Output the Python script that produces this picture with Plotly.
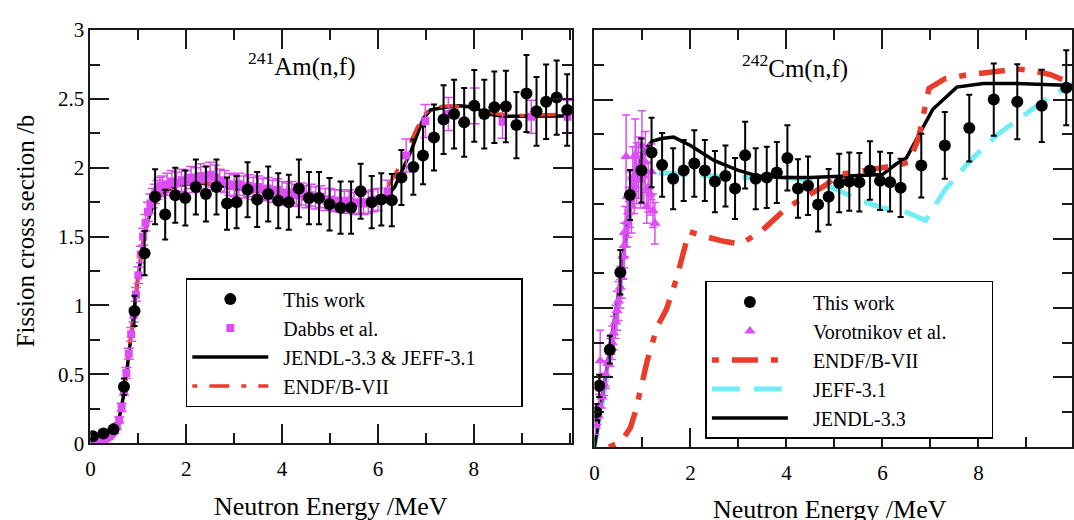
import plotly.graph_objects as go

FONT = "Liberation Serif, Times New Roman, serif"
RED = "#ea3b2b"
MAGENTA = "#dd4cf5"
CYAN = "#70eef5"
NB = "\u00a0"  # non-breaking space used to pad legend entries

# ---------------- 241Am(n,f) ----------------
am_this_e = [0.05, 0.27, 0.48, 0.70, 0.92, 1.13, 1.35, 1.56, 1.77, 1.98, 2.20, 2.41, 2.63, 2.85,
             3.05, 3.28, 3.48, 3.71, 3.92, 4.14, 4.35, 4.56, 4.77, 4.99, 5.22, 5.44, 5.64, 5.87,
             6.07, 6.29, 6.49, 6.74, 6.94, 7.17, 7.37, 7.59, 7.80, 8.01, 8.22, 8.43, 8.67, 8.89,
             9.10, 9.31, 9.51, 9.73, 9.95]
am_this_xs = [0.05, 0.07, 0.10, 0.41, 0.96, 1.38, 1.79, 1.66, 1.80, 1.78, 1.86, 1.81, 1.86, 1.74,
              1.75, 1.84, 1.77, 1.81, 1.76, 1.75, 1.85, 1.78, 1.78, 1.735, 1.71, 1.71, 1.83, 1.75,
              1.77, 1.765, 1.93, 2.005, 2.09, 2.22, 2.35, 2.39, 2.33, 2.45, 2.39, 2.44, 2.445, 2.31,
              2.54, 2.41, 2.48, 2.51, 2.42]
am_this_err = [0.02, 0.02, 0.025, 0.06, 0.11, 0.16, 0.20, 0.18, 0.20, 0.20, 0.20, 0.20, 0.20, 0.19,
               0.19, 0.20, 0.20, 0.20, 0.20, 0.20, 0.21, 0.19, 0.19, 0.19, 0.19, 0.19, 0.20, 0.19,
               0.19, 0.19, 0.20, 0.20, 0.21, 0.24, 0.25, 0.25, 0.25, 0.26, 0.25, 0.26, 0.26, 0.24,
               0.28, 0.25, 0.27, 0.27, 0.26]

am_dabbs_e = [0.05, 0.10, 0.15, 0.20, 0.25, 0.30, 0.35, 0.40, 0.45, 0.50, 0.55, 0.60, 0.65, 0.70,
              0.75, 0.80, 0.85, 0.90, 0.95, 1.00, 1.05, 1.10, 1.15, 1.20, 1.25, 1.30, 1.35, 1.40,
              1.45, 1.50, 1.6, 1.7, 1.8, 1.9, 2.0, 2.1, 2.2, 2.3, 2.4, 2.5, 2.6, 2.7, 2.8, 2.9,
              3.0, 3.1, 3.2, 3.3, 3.4, 3.5, 3.6, 3.7, 3.8, 3.9, 4.0, 4.1, 4.2, 4.3, 4.4, 4.5,
              4.6, 4.7, 4.8, 4.9, 5.0, 5.1, 5.2, 5.3, 5.4, 5.5, 5.6, 5.7, 5.8, 5.9, 6.0,
              6.20, 6.59, 6.99, 7.47, 8.02, 8.60, 9.20, 9.96]
am_dabbs_xs = [0.01, 0.01, 0.02, 0.02, 0.03, 0.03, 0.04, 0.05, 0.07, 0.09, 0.12, 0.17, 0.26, 0.38,
               0.51, 0.65, 0.79, 0.93, 1.08, 1.22, 1.37, 1.50, 1.60, 1.68, 1.74, 1.78, 1.81, 1.84,
               1.86, 1.87, 1.88, 1.90, 1.89, 1.91, 1.90, 1.93, 1.91, 1.94, 1.92, 1.95, 1.93, 1.91,
               1.90, 1.88, 1.87, 1.88, 1.86, 1.87, 1.85, 1.86, 1.84, 1.85, 1.83, 1.84, 1.82, 1.81,
               1.82, 1.80, 1.81, 1.79, 1.80, 1.78, 1.79, 1.77, 1.77, 1.76, 1.76, 1.75, 1.76, 1.74,
               1.75, 1.74, 1.75, 1.76, 1.77,
               1.83, 2.09, 2.34, 2.39, 2.45, 2.335, 2.37, 2.37]
am_dabbs_err = [0.01, 0.01, 0.01, 0.01, 0.01, 0.01, 0.01, 0.01, 0.01, 0.02, 0.02, 0.02, 0.03, 0.03,
                0.04, 0.04, 0.05, 0.05, 0.05, 0.06, 0.06, 0.06, 0.06, 0.07, 0.07, 0.07, 0.07, 0.07,
                0.07, 0.07, 0.08, 0.08, 0.08, 0.08, 0.08, 0.08, 0.09, 0.09, 0.09, 0.09, 0.09, 0.08,
                0.08, 0.08, 0.08, 0.08, 0.08, 0.08, 0.08, 0.08, 0.08, 0.08, 0.08, 0.08, 0.08, 0.08,
                0.08, 0.08, 0.08, 0.08, 0.08, 0.08, 0.08, 0.08, 0.08, 0.08, 0.08, 0.08, 0.08, 0.08,
                0.08, 0.08, 0.08, 0.08, 0.08,
                0.08, 0.12, 0.12, 0.12, 0.13, 0.12, 0.12, 0.12]

am_jendl_e = [0.0, 0.2, 0.4, 0.5, 0.6, 0.7, 0.8, 0.9, 1.0, 1.1, 1.2, 1.3, 1.5, 1.8, 2.2, 2.6, 3.0,
              3.5, 4.0, 4.5, 5.0, 5.5, 6.0, 6.2, 6.35, 6.5, 6.7, 6.95, 7.1, 7.4, 7.7, 8.0, 8.3,
              8.6, 9.0, 10.0]
am_jendl_xs = [0.02, 0.03, 0.06, 0.10, 0.18, 0.36, 0.64, 0.95, 1.22, 1.45, 1.62, 1.72, 1.82, 1.87,
               1.89, 1.88, 1.85, 1.83, 1.81, 1.79, 1.77, 1.75, 1.76, 1.80, 1.86, 1.97, 2.13, 2.36,
               2.42, 2.44, 2.45, 2.44, 2.39, 2.375, 2.377, 2.377]

am_endf_e = [0.0, 0.2, 0.4, 0.5, 0.6, 0.7, 0.8, 0.9, 1.0, 1.1, 1.2, 1.3, 1.5, 1.8, 2.2, 2.6, 3.0,
             3.5, 4.0, 4.5, 5.0, 5.5, 5.8, 6.0, 6.2, 6.4, 6.6, 6.8, 7.0, 7.2, 7.5, 8.0, 8.5,
             9.0, 10.0]
am_endf_xs = [0.02, 0.03, 0.06, 0.10, 0.19, 0.38, 0.66, 0.97, 1.24, 1.46, 1.63, 1.73, 1.83, 1.88,
              1.90, 1.88, 1.85, 1.83, 1.81, 1.79, 1.77, 1.76, 1.76, 1.78, 1.86, 1.98, 2.12, 2.28,
              2.40, 2.44, 2.45, 2.43, 2.39, 2.38, 2.39]

# ---------------- 242Cm(n,f) ----------------
cm_this_e = [0.04, 0.10, 0.32, 0.54, 0.74, 0.98, 1.19, 1.41, 1.64, 1.86, 2.08, 2.30, 2.51, 2.73,
             2.93, 3.14, 3.36, 3.59, 3.80, 4.02, 4.24, 4.45, 4.66, 4.88, 5.10, 5.31, 5.52, 5.74,
             5.95, 6.16, 6.38, 6.81, 7.30, 7.81, 8.32, 8.81, 9.32, 9.83]
cm_this_xs = [0.25, 0.44, 0.70, 1.258, 1.814, 1.99, 2.12, 2.03, 1.93, 1.99, 2.04, 1.99, 1.91, 1.95,
              1.86, 2.10, 1.93, 1.94, 1.975, 2.08, 1.86, 1.88, 1.745, 1.80, 1.90, 1.91, 1.905, 1.99,
              1.915, 1.905, 1.865, 2.025, 2.17, 2.295, 2.50, 2.485, 2.455, 2.585]
cm_this_err = [0.06, 0.08, 0.10, 0.16, 0.18, 0.23, 0.25, 0.23, 0.22, 0.22, 0.24, 0.22, 0.22, 0.22,
               0.22, 0.24, 0.22, 0.22, 0.22, 0.235, 0.21, 0.21, 0.195, 0.20, 0.21, 0.21, 0.21, 0.21,
               0.21, 0.21, 0.21, 0.23, 0.24, 0.24, 0.26, 0.27, 0.26, 0.27]

cm_voro_e = [0.02, 0.06, 0.10, 0.12, 0.16, 0.20, 0.24, 0.28, 0.33, 0.37, 0.40, 0.44, 0.47, 0.50,
             0.54, 0.57, 0.60, 0.62, 0.64, 0.66, 0.68, 0.71, 0.74, 0.77, 0.80, 0.83, 0.85, 0.88,
             0.92, 0.96, 0.99, 1.03, 1.06, 1.09, 1.12, 1.16, 1.19, 1.22, 1.26]
cm_voro_xs = [0.15, 0.22, 0.30, 0.62, 0.36, 0.45, 0.52, 0.60, 0.68, 0.75, 0.82, 0.90, 0.98, 1.05,
              1.15, 1.22, 1.37, 1.45, 1.55, 2.09, 1.62, 1.69, 1.78, 1.74, 1.94, 1.88, 2.10, 1.97,
              2.01, 1.92, 2.17, 1.95, 2.05, 1.73, 1.87, 1.82, 1.98, 1.70, 1.61]
cm_voro_err = [0.06, 0.06, 0.08, 0.22, 0.08, 0.08, 0.10, 0.10, 0.10, 0.12, 0.12, 0.12, 0.14, 0.14,
               0.15, 0.15, 0.16, 0.16, 0.18, 0.30, 0.18, 0.18, 0.20, 0.20, 0.22, 0.20, 0.26, 0.22,
               0.22, 0.20, 0.25, 0.20, 0.22, 0.12, 0.18, 0.15, 0.20, 0.12, 0.15]
cm_voro_err_e = [0.07, 0.07, 0.07, 0.07, 0.07, 0.07, 0.07, 0.07, 0.07, 0.07, 0.07, 0.07, 0.07, 0.07,
                 0.07, 0.07, 0.07, 0.07, 0.07, 0.07, 0.07, 0.07, 0.07, 0.07, 0.07, 0.07, 0.07, 0.07,
                 0.07, 0.07, 0.07, 0.07, 0.07, 0.07, 0.07, 0.07, 0.07, 0.07, 0.07]

cm_endf_e = [0.30, 0.45, 0.60, 0.75, 0.85, 1.0, 1.1, 1.3, 1.5, 1.7, 1.86, 1.97, 2.3, 2.7, 3.05,
             3.5, 4.0, 4.5, 4.8, 5.1, 5.5, 5.9, 6.35, 6.55, 6.75, 6.97, 7.3, 7.8, 8.3, 8.8, 9.1,
             9.5, 9.85, 10.0]
cm_endf_xs = [0.0, 0.02, 0.06, 0.14, 0.25, 0.47, 0.62, 0.86, 0.99, 1.20, 1.39, 1.55, 1.515, 1.48,
              1.46, 1.56, 1.72, 1.82, 1.88, 1.96, 1.98, 2.00, 2.03, 2.05, 2.22, 2.58, 2.65, 2.68,
              2.70, 2.72, 2.71, 2.68, 2.63, 2.61]

cm_jeff_e = [0.0, 0.1, 0.2, 0.3, 0.4, 0.5, 0.6, 0.7, 0.8, 0.9, 1.0, 1.2, 1.5, 2.0, 2.5, 3.0, 3.5,
             4.0, 4.5, 5.0, 5.5, 6.0, 6.5, 6.9, 7.3, 7.8, 8.4, 8.9, 9.4, 9.8, 10.0]
cm_jeff_xs = [0.0, 0.18, 0.38, 0.58, 0.82, 1.08, 1.35, 1.60, 1.80, 1.92, 1.96, 1.97, 1.97, 1.96,
              1.95, 1.94, 1.94, 1.94, 1.92, 1.86, 1.78, 1.72, 1.69, 1.63, 1.85, 2.05, 2.25, 2.38,
              2.50, 2.58, 2.62]

cm_jendl_e = [0.0, 0.1, 0.2, 0.3, 0.4, 0.5, 0.6, 0.7, 0.8, 0.9, 1.0, 1.1, 1.2, 1.4, 1.65, 2.0,
              2.5, 3.0, 3.4, 3.9, 4.5, 5.0, 5.5, 6.0, 6.3, 6.5, 6.75, 7.05, 7.55, 8.1, 8.8, 9.7,
              10.0]
cm_jendl_xs = [0.0, 0.22, 0.42, 0.62, 0.85, 1.10, 1.38, 1.65, 1.85, 2.00, 2.10, 2.16, 2.20, 2.22,
               2.23, 2.17, 2.06, 1.99, 1.95, 1.94, 1.94, 1.945, 1.95, 1.96, 2.04, 2.08, 2.24, 2.43,
               2.59, 2.615, 2.615, 2.60, 2.60]

y_ticks = [0, 0.5, 1, 1.5, 2, 2.5, 3]
x_ticks = [0, 2, 4, 6, 8]

W, H = 1074, 520


def px_x(p):
    return p / W


def px_y(p):
    return 1 - p / H


def pad(label, lead, trail=0):
    """Legend label with leading/trailing non-breaking spaces."""
    return NB * lead + label + NB * trail


fig = go.Figure()

# ---- left panel: evaluations first, then measurements on top ----
fig.add_trace(go.Scatter(x=am_jendl_e, y=am_jendl_xs, mode="lines",
                         name=pad("JENDL-3.3 & JEFF-3.1", 2, 8),
                         line=dict(color="black", width=3.5), xaxis="x", yaxis="y",
                         legend="legend", legendrank=3))
fig.add_trace(go.Scatter(x=am_endf_e, y=am_endf_xs, mode="lines", name=pad("ENDF/B-VII", 2),
                         line=dict(color=RED, width=3.5, dash="5px,12px,20px,12px"),
                         xaxis="x", yaxis="y", legend="legend", legendrank=4))
fig.add_trace(go.Scatter(x=am_dabbs_e, y=am_dabbs_xs, mode="markers", name=pad("Dabbs et al.", 2),
                         marker=dict(symbol="square", size=8, color=MAGENTA),
                         error_y=dict(type="data", array=am_dabbs_err, color=MAGENTA,
                                      thickness=1.5, width=5),
                         xaxis="x", yaxis="y", legend="legend", legendrank=2))
fig.add_trace(go.Scatter(x=am_this_e, y=am_this_xs, mode="markers", name=pad("This work", 2),
                         marker=dict(symbol="circle", size=12, color="black"),
                         error_y=dict(type="data", array=am_this_err, color="black",
                                      thickness=2, width=3),
                         xaxis="x", yaxis="y", legend="legend", legendrank=1))

# ---- right panel ----
fig.add_trace(go.Scatter(x=cm_jeff_e, y=cm_jeff_xs, mode="lines", name=pad("JEFF-3.1", 4),
                         line=dict(color=CYAN, width=5, dash="28px,14px"),
                         xaxis="x2", yaxis="y2", legend="legend2", legendrank=4))
fig.add_trace(go.Scatter(x=cm_jendl_e, y=cm_jendl_xs, mode="lines", name=pad("JENDL-3.3", 4),
                         line=dict(color="black", width=3.5), xaxis="x2", yaxis="y2",
                         legend="legend2", legendrank=5))
fig.add_trace(go.Scatter(x=cm_endf_e, y=cm_endf_xs, mode="lines", name=pad("ENDF/B-VII", 4),
                         line=dict(color=RED, width=5.5, dash="7px,13px,26px,13px"),
                         xaxis="x2", yaxis="y2", legend="legend2", legendrank=3))
fig.add_trace(go.Scatter(x=cm_voro_e, y=cm_voro_xs, mode="markers",
                         name=pad("Vorotnikov et al.", 4, 8),
                         marker=dict(symbol="triangle-up", size=10, color=MAGENTA),
                         error_y=dict(type="data", array=cm_voro_err, color=MAGENTA,
                                      thickness=1.5, width=4),
                         error_x=dict(type="data", array=cm_voro_err_e, color=MAGENTA,
                                      thickness=1.5, width=0),
                         xaxis="x2", yaxis="y2", legend="legend2", legendrank=2))
fig.add_trace(go.Scatter(x=cm_this_e, y=cm_this_xs, mode="markers", name=pad("This work", 4),
                         marker=dict(symbol="circle", size=12, color="black"),
                         error_y=dict(type="data", array=cm_this_err, color="black",
                                      thickness=2, width=3),
                         xaxis="x2", yaxis="y2", legend="legend2", legendrank=1))

axis_common = dict(
    showline=True, linecolor="#1a1a1a", linewidth=2, mirror="allticks",
    ticks="inside", ticklen=19, tickwidth=1.5, tickcolor="#1a1a1a",
    showgrid=False, zeroline=False,
    tickfont=dict(family=FONT, size=21, color="black"),
)
minor_x = dict(dtick=1, ticks="inside", ticklen=10, tickcolor="#1a1a1a", tickwidth=1.5)
minor_y = dict(dtick=0.25, ticks="inside", ticklen=10, tickcolor="#1a1a1a", tickwidth=1.5)

legend_common = dict(
    xanchor="left", yanchor="top",
    bgcolor="white", bordercolor="black", borderwidth=1.5,
    font=dict(family=FONT, size=20, color="black"),
    itemwidth=76, tracegroupgap=0,
)

fig.update_layout(
    width=W, height=H,
    margin=dict(l=0, r=0, t=0, b=0),
    paper_bgcolor="white", plot_bgcolor="white",
    font=dict(family=FONT, color="black"),
    xaxis=dict(domain=[px_x(86), px_x(570.7)], range=[0, 10.05], anchor="y",
               tickvals=x_ticks, ticklabelstandoff=6, minor=minor_x, **axis_common),
    yaxis=dict(domain=[px_y(452), px_y(19)], range=[0, 3], anchor="x",
               tickvals=y_ticks, minor=minor_y, **axis_common),
    xaxis2=dict(domain=[px_x(593.3), 1.0], range=[0, 9.95], anchor="y2",
                tickvals=x_ticks, ticklabelstandoff=6, minor=minor_x, **axis_common),
    yaxis2=dict(domain=[px_y(456), px_y(19)], range=[0, 3], anchor="x2",
                tickvals=y_ticks, showticklabels=False, minor=minor_y, **axis_common),
    legend=dict(x=px_x(182), y=px_y(279), **legend_common),
    legend2=dict(x=px_x(705), y=px_y(282), **legend_common),
    showlegend=True,
)

annotations = [
    dict(text="<sup>241</sup>Am(n,f)", x=px_x(298), y=px_y(55), xref="paper", yref="paper",
         xanchor="center", yanchor="middle", showarrow=False,
         font=dict(family=FONT, size=25, color="black")),
    dict(text="<sup>242</sup>Cm(n,f)", x=px_x(795), y=px_y(57), xref="paper", yref="paper",
         xanchor="center", yanchor="middle", showarrow=False,
         font=dict(family=FONT, size=25, color="black")),
    dict(text="Fission cross section /b", x=px_x(21), y=px_y(229), xref="paper", yref="paper",
         xanchor="center", yanchor="middle", textangle=-90, showarrow=False,
         font=dict(family=FONT, size=25, color="black")),
    dict(text="Neutron Energy /MeV", x=px_x(328), y=px_y(518), xref="paper", yref="paper",
         xanchor="center", yanchor="middle", showarrow=False,
         font=dict(family=FONT, size=26, color="black")),
    dict(text="Neutron Energy /MeV", x=px_x(830), y=px_y(522), xref="paper", yref="paper",
         xanchor="center", yanchor="middle", showarrow=False,
         font=dict(family=FONT, size=26, color="black")),
]
fig.update_layout(annotations=annotations)

fig.write_html("out.html")
